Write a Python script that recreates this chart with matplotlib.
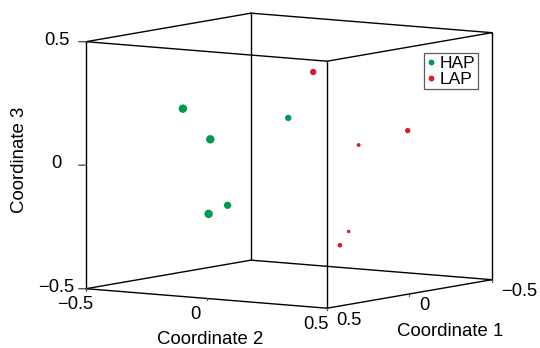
import numpy as np
import matplotlib
matplotlib.use('Agg')
import matplotlib.pyplot as plt
from matplotlib.lines import Line2D
from mpl_toolkits.mplot3d import proj3d

plt.rcParams['font.family'] = ['Liberation Sans', 'DejaVu Sans']

# ---- data ----
hap_c1 = [0.349, 0.296, 0.299, 0.205, 0.030]
hap_c2 = [-0.2015, -0.124, -0.129, -0.1145, 0.0175]
hap_c3 = [0.235, 0.111, -0.191, -0.166, 0.178]
hap_size = [37, 37, 37, 28, 21]

lap_c1 = [-0.018, -0.258, -0.238, -0.242, -0.167]
lap_c2 = [0.088, 0.316, 0.126, 0.082, 0.097]
lap_c3 = [0.364, 0.117, 0.046, -0.308, -0.354]
lap_size = [21, 15, 8, 6.5, 11]

ticks = [-0.5, 0, 0.5]
tick_labels = ['\u22120.5', '0', '0.5']
series_names = ['HAP', 'LAP']
green = '#009b4f'
red = '#d61e2a'

W, H = 540, 348
fig = plt.figure(figsize=(W / 100, H / 100), dpi=100)
S = 300
ax = fig.add_axes([(W - S) / 2 / W, (H - S) / 2 / H, S / W, S / H], projection='3d')
ax.set_proj_type('ortho')
ax.view_init(elev=6.8, azim=34.4)
ax.set_box_aspect((1, 1, 0.852))
lo, hi = -0.5, 0.5
ax.set_xlim(lo, hi)
ax.set_ylim(lo, hi)
ax.set_zlim(lo, hi)
ax.set_axis_off()

# box edges
lw = 1.0
for a in (lo, hi):
    for b in (lo, hi):
        ax.plot([lo, hi], [a, a], [b, b], color='black', lw=lw)
        ax.plot([a, a], [lo, hi], [b, b], color='black', lw=lw)
        ax.plot([a, a], [b, b], [lo, hi], color='black', lw=lw)

# data
ax.scatter(hap_c1, hap_c2, hap_c3, s=hap_size, c=green, depthshade=False,
           edgecolors='none')
ax.scatter(lap_c1, lap_c2, lap_c3, s=lap_size, c=red, depthshade=False,
           edgecolors='none')

# tick marks
for t in ticks:
    ax.plot([hi, hi + 0.014], [lo, lo - 0.020], [t, t], color='#555555', lw=1.0)
    ax.plot([hi, hi], [t, t], [lo, lo - 0.008], color='#555555', lw=0.8)
    ax.plot([t, t], [hi, hi], [lo, lo - 0.008], color='#555555', lw=0.8)

# ---- fit the projected box onto the target layout ----
fig.canvas.draw()
corners = [(hi, hi, lo), (hi, lo, lo), (lo, hi, lo), (lo, lo, lo),
           (hi, hi, hi), (hi, lo, hi), (lo, hi, hi), (lo, lo, hi)]
target = np.array([(327, 308), (86, 289), (492, 279.5), (251, 260),
                   (327, 61), (86, 42), (492, 33), (251, 13)], float)
target[:, 1] = H - target[:, 1]


def project(pts):
    M = ax.get_proj()
    cx, cy, cz = (np.array(v, float) for v in zip(*pts))
    px, py, _ = proj3d.proj_transform(cx, cy, cz, M)
    return ax.transData.transform(np.column_stack([px, py]))


P = project(corners)
Pm, Tm = P.mean(0), target.mean(0)
k = ((P - Pm) * (target - Tm)).sum() / ((P - Pm) ** 2).sum()
bb = ax.get_position()
O = np.array([bb.x0 * W, bb.y0 * H])
Sp = bb.width * W
O2 = Tm - k * (Pm - O)
S2 = Sp * k
ax.set_position([O2[0] / W, O2[1] / H, S2 / W, S2 / H])
fig.canvas.draw()

# tick labels placed at projected anchor points
fs = 13.2
z_anchor = project([(hi + 0.057, lo - 0.083, t + 0.006) for t in ticks])
c2_anchor = project([(hi + 0.067, t, lo - 0.057) for t in ticks])
c1_anchor = project([(t, hi + 0.040, lo - 0.045) for t in ticks])
for (px, py), lab in zip(z_anchor, tick_labels):
    fig.text(px / W, py / H, lab, ha='center', va='center', fontsize=fs)
for (px, py), lab in zip(c2_anchor, tick_labels):
    fig.text(px / W, py / H, lab, ha='center', va='center', fontsize=fs)
for (px, py), lab in zip(c1_anchor, tick_labels):
    fig.text(px / W, py / H, lab, ha='left', va='center', fontsize=fs)

# axis labels
fig.text(210 / W, (H - 340) / H, 'Coordinate 2', ha='center', va='center', fontsize=13.4)
fig.text(450.5 / W, (H - 332) / H, 'Coordinate 1', ha='center', va='center', fontsize=13.4)
fig.text(20 / W, (H - 160) / H, 'Coordinate 3', ha='center', va='center',
         rotation=90, fontsize=13.4)

# legend
handles = [Line2D([], [], ls='none', marker='o', ms=4.2, color=green, mec='none'),
           Line2D([], [], ls='none', marker='o', ms=4.2, color=red, mec='none')]
leg = fig.legend(handles, series_names, loc='upper left',
                 bbox_to_anchor=(424 / W, (H - 53) / H), bbox_transform=fig.transFigure,
                 fontsize=12.5, frameon=True, fancybox=False, handlelength=0.55,
                 handletextpad=0.2, borderpad=0.15, labelspacing=0.05,
                 borderaxespad=0.0)
leg.get_frame().set_edgecolor('#333333')
leg.get_frame().set_linewidth(0.9)

fig.savefig('out.png', dpi=100)
